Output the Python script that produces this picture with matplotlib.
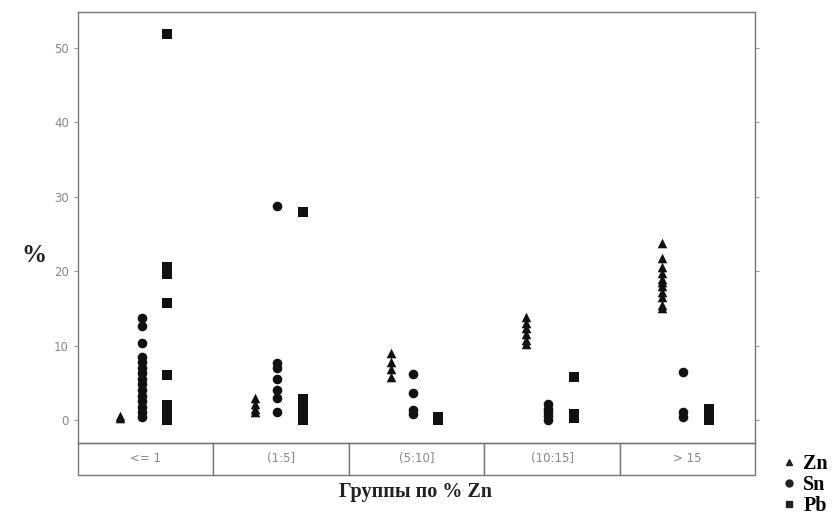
import numpy as np
import matplotlib.pyplot as plt
from matplotlib.lines import Line2D

# Groups by % Zn
group_labels = ['<= 1', '(1:5]', '(5:10]', '(10:15]', '> 15']

# values, one list per group
zn = [
    [0.5, 0.2],
    [3.0, 2.2, 1.5, 1.0],
    [9.0, 7.8, 6.8, 5.8],
    [13.8, 13.0, 12.3, 11.5, 10.8, 10.2],
    [23.8, 21.8, 20.5, 19.8, 19.0, 18.5, 18.0, 17.2, 16.5, 15.5, 15.0],
]
sn = [
    [13.7, 12.6, 10.3, 8.5, 7.8, 7.0, 6.3, 5.5, 4.8, 4.0, 3.2, 2.5, 1.8, 1.0, 0.4],
    [28.8, 7.6, 7.0, 5.5, 4.0, 3.0, 1.0],
    [6.2, 3.6, 1.3, 0.8],
    [2.2, 1.5, 1.0, 0.5, 0.0],
    [6.5, 1.0, 0.4],
]
pb = [
    [51.8, 20.5, 19.6, 15.7, 6.0, 2.0, 1.2, 0.5, 0.0],
    [28.0, 2.8, 2.0, 1.2, 0.5, 0.0],
    [0.4, 0.0],
    [5.8, 0.8, 0.2],
    [1.5, 1.0, 0.5, 0.0],
]

fig = plt.figure(figsize=(8.37, 5.16), dpi=100)
ax = fig.add_axes([0.0932, 0.1415, 0.809, 0.835])

offsets = {'Zn': -0.19, 'Sn': -0.03, 'Pb': 0.16}
styles = {'Zn': '^', 'Sn': 'o', 'Pb': 's'}
series = {'Zn': zn, 'Sn': sn, 'Pb': pb}

for name, data in series.items():
    for i, vals in enumerate(data):
        ax.scatter(np.full(len(vals), i + offsets[name]), vals,
                   marker=styles[name], s=48, color='#111111', linewidths=0)

ax.set_xlim(-0.5, 4.5)
ax.set_ylim(-3.1, 54.8)
ax.set_xticks([])
ax.set_yticks([0, 10, 20, 30, 40, 50])
ax.tick_params(axis='y', colors='#999999', labelsize=8.5, length=3,
               right=True, direction='out')
ax.tick_params(axis='y', labelcolor='#888888')
for sp in ax.spines.values():
    sp.set_color('#777777')
    sp.set_linewidth(1.0)

# category table under the plot
tbl = ax.table(cellText=[group_labels], cellLoc='center',
               bbox=[0, -0.0742, 1, 0.0742])
tbl.auto_set_font_size(False)
for (r, c), cell in tbl.get_celld().items():
    cell.set_edgecolor('#777777')
    cell.set_linewidth(1.0)
    cell.get_text().set_color('#888888')
    cell.get_text().set_fontsize(8.5)

fig.text(0.496, 0.046, 'Группы по % Zn', ha='center', va='center',
         family='Liberation Serif', fontweight='bold', fontsize=14.5, color='#222222')
fig.text(0.04, 0.505, '%', ha='center', va='center',
         family='Liberation Serif', fontweight='bold', fontsize=18, color='#222222')

handles = [Line2D([], [], linestyle='', marker=styles[n], color='#222222',
                  markersize=5) for n in series]
fig.legend(handles, list(series.keys()), loc='lower left',
           bbox_to_anchor=(0.914, -0.035), frameon=False, handlelength=0.6,
           handletextpad=0.4, labelspacing=0.05,
           prop={'family': 'Liberation Serif', 'weight': 'bold', 'size': 14.5})

fig.savefig('out.png', dpi=100)
